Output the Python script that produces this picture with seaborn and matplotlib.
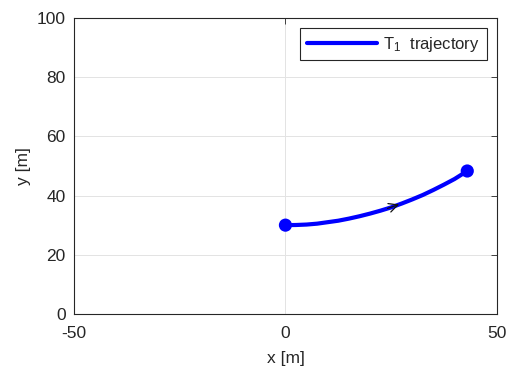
import numpy as np
import pandas as pd
import matplotlib
matplotlib.use('Agg')
import matplotlib.pyplot as plt
import seaborn as sns

# Trajectory of T1
x_pos = [0, 2.5, 5, 7.5, 10, 12.5, 15, 17.5, 20, 22.5, 25, 27.5, 30,
         32.5, 35, 37.5, 40, 43]
y_pos = [30.0, 30.05, 30.2, 30.5, 31.0, 31.5, 32.2, 33.0, 33.9, 34.9,
         36.0, 37.3, 38.7, 40.2, 41.9, 43.7, 45.6, 48.3]
x_ticks = [-50, 0, 50]
y_ticks = [0, 20, 40, 60, 80, 100]
arrow_x = 27.5

sns.set_style("whitegrid")
plt.rcParams['font.family'] = ['Liberation Sans', 'DejaVu Sans']
plt.rcParams['mathtext.fontset'] = 'custom'
plt.rcParams['mathtext.rm'] = 'Liberation Sans'
plt.rcParams['mathtext.it'] = 'Liberation Sans'
plt.rcParams['axes.unicode_minus'] = False

df = pd.DataFrame({'x': x_pos, 'y': y_pos})

fig = plt.figure(figsize=(5.07, 3.68), dpi=100)
ax = fig.add_axes([0.146, 0.147, 0.834, 0.804])

sns.lineplot(data=df, x='x', y='y', sort=False, color='#0000ff', linewidth=3,
             label='T$_1$  trajectory', ax=ax)
ends = df.iloc[[0, -1]]
sns.scatterplot(data=ends, x='x', y='y', color='#0000ff', s=90, edgecolor='none',
                zorder=5, legend=False, ax=ax)

# direction arrow on the curve
ay = np.interp(arrow_x, x_pos, y_pos)
ay0 = np.interp(arrow_x - 4, x_pos, y_pos)
ax.annotate('', xy=(arrow_x, ay), xytext=(arrow_x - 4, ay0),
            arrowprops=dict(arrowstyle='->', color='#111111', lw=0.9,
                            mutation_scale=16), zorder=6)

ax.set_xlim(-50, 50)
ax.set_ylim(0, 100)
ax.set_xticks(x_ticks)
ax.set_yticks(y_ticks)
ax.set_xlabel('x [m]', fontsize=12.5, color='#262626', labelpad=7)
ax.set_ylabel('y [m]', fontsize=12.5, color='#262626', labelpad=4)
ax.tick_params(axis='both', labelsize=12.5, colors='#262626', direction='in',
               length=4, width=0.6, top=True, right=True)
ax.tick_params(axis='x', pad=9)
ax.tick_params(axis='y', pad=6)
ax.grid(True, color='#e3e3e3', linewidth=0.7)
for s in ax.spines.values():
    s.set_visible(True)
    s.set_color('#262626')
    s.set_linewidth(0.8)

leg = ax.legend(loc='upper right', fontsize=12, handlelength=4.2, fancybox=False,
                framealpha=1, borderaxespad=0.6, handletextpad=0.4,
                borderpad=0.4)
leg.get_frame().set_edgecolor('#262626')
leg.get_frame().set_linewidth(0.8)

fig.savefig('out.png', dpi=100)
